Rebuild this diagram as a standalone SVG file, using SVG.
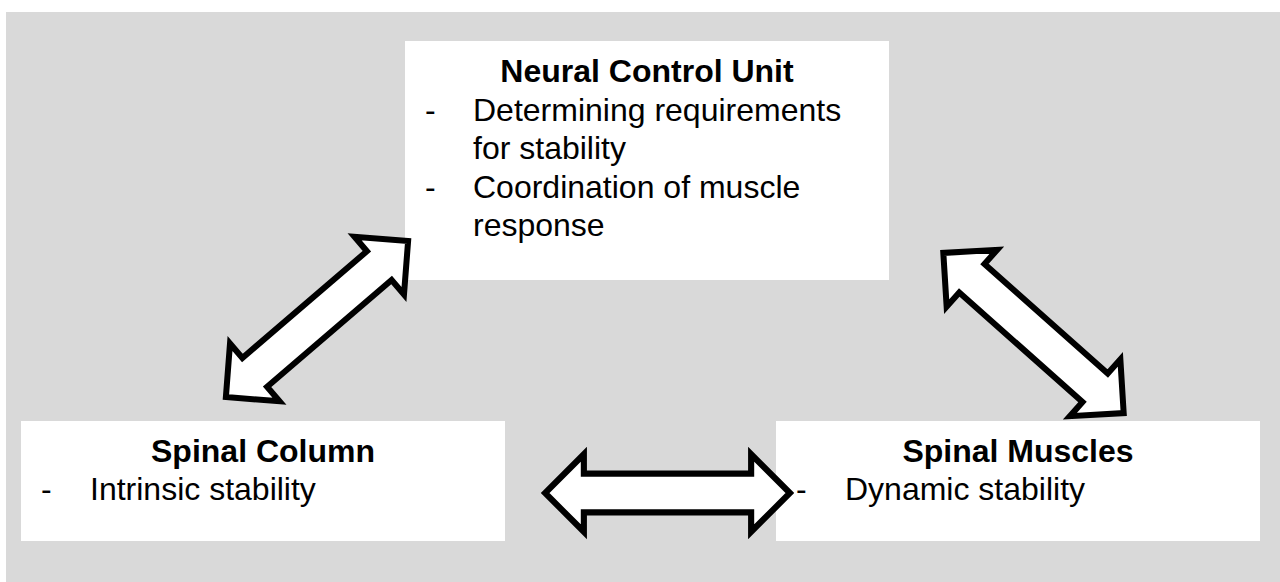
<svg xmlns="http://www.w3.org/2000/svg" width="1280" height="582" viewBox="0 0 1280 582">
  <style>
    .box { fill: #ffffff; }
    .title { font-family: "Liberation Sans", Arial, sans-serif; font-weight: bold; font-size: 32px; fill: #000000; text-anchor: middle; }
    .body { font-family: "Liberation Sans", Arial, sans-serif; font-size: 32px; fill: #000000; }
    .arrow { fill: #ffffff; stroke: #000000; stroke-width: 6; stroke-linejoin: miter; }
  </style>
  <defs>
    <polygon id="dblArrow" points="120,0 82,-38 82,-19 -82,-19 -82,-38 -120,0 -82,38 -82,19 82,19 82,38"/>
  </defs>
  <rect x="6" y="12" width="1274" height="570" fill="#d9d9d9"/>

  <g id="neural-control-unit">
    <rect class="box" x="405" y="41" width="484" height="239"/>
    <text class="title" x="647" y="82">Neural Control Unit</text>
    <text class="body" x="425" y="121">-</text>
    <text class="body" x="473" y="121">Determining requirements</text>
    <text class="body" x="473" y="159">for stability</text>
    <text class="body" x="425" y="198">-</text>
    <text class="body" x="473" y="198">Coordination of muscle</text>
    <text class="body" x="473" y="236">response</text>
  </g>

  <g id="spinal-column">
    <rect class="box" x="21" y="421" width="484" height="120"/>
    <text class="title" x="263" y="462">Spinal Column</text>
    <text class="body" x="41" y="500">-</text>
    <text class="body" x="90" y="500">Intrinsic stability</text>
  </g>

  <g id="spinal-muscles">
    <rect class="box" x="776" y="421" width="484" height="120"/>
    <text class="title" x="1018" y="462">Spinal Muscles</text>
    <text class="body" x="796" y="500">-</text>
    <text class="body" x="845" y="500">Dynamic stability</text>
  </g>

  <g id="connectors">
    <use href="#dblArrow" class="arrow" transform="translate(317,319) rotate(-40.6)"/>
    <use href="#dblArrow" class="arrow" transform="translate(1033.5,333) rotate(41.6) scale(1.005,1)"/>
    <use href="#dblArrow" class="arrow" transform="translate(667.5,493) scale(1.02,1.02)"/>
  </g>
</svg>
